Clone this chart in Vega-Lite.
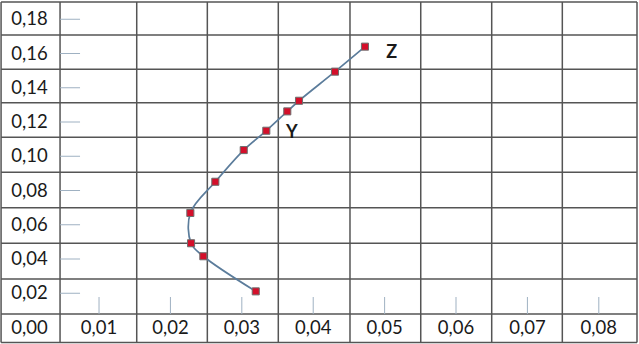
{
  "$schema": "https://vega.github.io/schema/vega-lite/v6.json",
  "width": 639,
  "height": 344,
  "padding": 0,
  "autosize": {"type": "fit", "contains": "padding"},
  "background": "white",
  "config": {"view": {"stroke": null}, "axis": {"domain": false}},
  "datasets": {
    "vgrid": [{"x": -0.00372}, {"x": 0.00454}, {"x": 0.01528}, {"x": 0.02517}, {"x": 0.03511}, {"x": 0.04515}, {"x": 0.05506}, {"x": 0.065}, {"x": 0.07489}, {"x": 0.08535}],
    "hgrid": [{"y": 0.19007}, {"y": 0.1708}, {"y": 0.15077}, {"y": 0.13127}, {"y": 0.11106}, {"y": 0.09063}, {"y": 0.06996}, {"y": 0.04917}, {"y": 0.02832}, {"y": 0.00788}, {"y": -0.00876}],
    "ylab": [{"y": 0, "label": "0,00"}, {"y": 0.02, "label": "0,02"}, {"y": 0.04, "label": "0,04"}, {"y": 0.06, "label": "0,06"}, {"y": 0.08, "label": "0,08"}, {"y": 0.1, "label": "0,10"}, {"y": 0.12, "label": "0,12"}, {"y": 0.14, "label": "0,14"}, {"y": 0.16, "label": "0,16"}, {"y": 0.18, "label": "0,18"}],
    "xlab": [{"x": 0.01, "label": "0,01"}, {"x": 0.02, "label": "0,02"}, {"x": 0.03, "label": "0,03"}, {"x": 0.04, "label": "0,04"}, {"x": 0.05, "label": "0,05"}, {"x": 0.06, "label": "0,06"}, {"x": 0.07, "label": "0,07"}, {"x": 0.08, "label": "0,08"}],
    "pts": [
      {"i": 1, "x": 0.03195, "y": 0.0211},
      {"i": 2, "x": 0.02461, "y": 0.0416},
      {"i": 3, "x": 0.02289, "y": 0.0492},
      {"i": 4, "x": 0.02279, "y": 0.0669},
      {"i": 5, "x": 0.02629, "y": 0.0851},
      {"i": 6, "x": 0.03027, "y": 0.1036},
      {"i": 7, "x": 0.03343, "y": 0.1149},
      {"i": 8, "x": 0.03637, "y": 0.1262},
      {"i": 9, "x": 0.03801, "y": 0.1324},
      {"i": 10, "x": 0.04305, "y": 0.1494},
      {"i": 11, "x": 0.04725, "y": 0.164}
    ],
    "names": [{"x": 0.051, "y": 0.1605, "label": "Z"}, {"x": 0.037, "y": 0.1138, "label": "Y"}]
  },
  "layer": [
    {
      "data": {"name": "vgrid"},
      "mark": {"type": "rule", "color": "#555555", "strokeWidth": 1.5},
      "encoding": {
        "x": {"field": "x", "type": "quantitative", "scale": {"domain": [-0.00387, 0.08563], "nice": false, "zero": false}, "axis": null},
        "y": {"datum": 0.19007, "type": "quantitative", "scale": {"domain": [-0.009635, 0.191241], "nice": false, "zero": false}, "axis": null},
        "y2": {"datum": -0.00876}
      }
    },
    {
      "data": {"name": "hgrid"},
      "mark": {"type": "rule", "color": "#555555", "strokeWidth": 1.5},
      "encoding": {
        "y": {"field": "y", "type": "quantitative", "scale": {"domain": [-0.009635, 0.191241], "nice": false, "zero": false}, "axis": null},
        "x": {"datum": -0.00372, "type": "quantitative", "scale": {"domain": [-0.00387, 0.08563], "nice": false, "zero": false}, "axis": null},
        "x2": {"datum": 0.08535}
      }
    },
    {
      "data": {"name": "ylab"},
      "transform": [{"filter": "datum.y > 0"}],
      "mark": {"type": "rule", "color": "#9fb1c2", "strokeWidth": 1},
      "encoding": {
        "y": {"field": "y", "type": "quantitative"},
        "x": {"datum": 0.00454, "type": "quantitative"},
        "x2": {"datum": 0.00734}
      }
    },
    {
      "data": {"name": "xlab"},
      "mark": {"type": "rule", "color": "#9fb1c2", "strokeWidth": 1},
      "encoding": {
        "x": {"field": "x", "type": "quantitative"},
        "y": {"datum": 0.01781, "type": "quantitative"},
        "y2": {"datum": 0.00788}
      }
    },
    {
      "data": {"name": "ylab"},
      "mark": {"type": "text", "align": "left", "baseline": "middle", "font": "Lato", "fontSize": 18.5, "color": "#1a1a1a"},
      "encoding": {
        "y": {"field": "y", "type": "quantitative"},
        "x": {"datum": -0.00228, "type": "quantitative"},
        "text": {"field": "label"}
      }
    },
    {
      "data": {"name": "xlab"},
      "mark": {"type": "text", "align": "center", "baseline": "middle", "font": "Lato", "fontSize": 18.5, "color": "#1a1a1a"},
      "encoding": {
        "x": {"field": "x", "type": "quantitative"},
        "y": {"datum": 0, "type": "quantitative"},
        "text": {"field": "label"}
      }
    },
    {
      "data": {"name": "pts"},
      "mark": {"type": "line", "interpolate": "catmull-rom", "color": "#5b7c9b", "strokeWidth": 1.7},
      "encoding": {
        "x": {"field": "x", "type": "quantitative"},
        "y": {"field": "y", "type": "quantitative"},
        "order": {"field": "i"}
      }
    },
    {
      "data": {"name": "pts"},
      "mark": {"type": "point", "shape": "square", "filled": true, "size": 50, "fill": "#d40f2a", "stroke": "#6e6e6e", "strokeWidth": 1, "opacity": 1},
      "encoding": {
        "x": {"field": "x", "type": "quantitative"},
        "y": {"field": "y", "type": "quantitative"}
      }
    },
    {
      "data": {"name": "names"},
      "mark": {"type": "text", "align": "center", "baseline": "middle", "font": "Lato", "fontWeight": "bold", "fontSize": 18, "color": "#1a1a1a"},
      "encoding": {
        "x": {"field": "x", "type": "quantitative"},
        "y": {"field": "y", "type": "quantitative"},
        "text": {"field": "label"}
      }
    }
  ]
}
